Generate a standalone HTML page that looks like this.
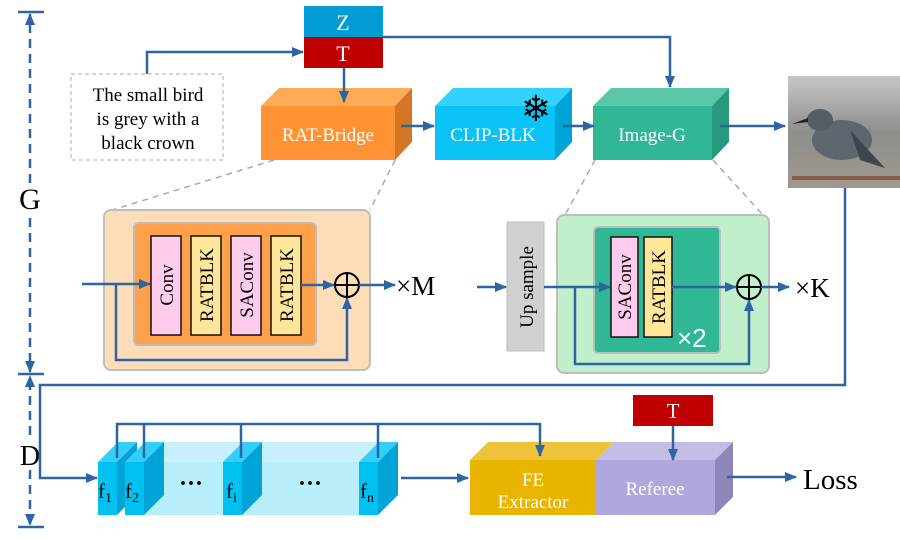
<!DOCTYPE html>
<html><head><meta charset="utf-8"><style>
html,body{margin:0;padding:0;background:#fff;}
svg{display:block;font-family:"Liberation Serif",serif;}
</style></head><body>
<svg width="900" height="539" viewBox="0 0 900 539" xmlns="http://www.w3.org/2000/svg">
<defs>
<marker id="a" markerWidth="12" markerHeight="10" refX="11" refY="5" orient="auto" markerUnits="userSpaceOnUse"><path d="M0,0 L12,5 L0,10 z" fill="#2E64A0"/></marker>
<linearGradient id="bg" x1="0" y1="0" x2="0" y2="1"><stop offset="0" stop-color="#c9c6c8"/><stop offset="0.5" stop-color="#8d8f8a"/><stop offset="1" stop-color="#a09890"/></linearGradient>
</defs>
<g stroke="#2E64A0" stroke-width="2.5" fill="none">
<line x1="18" y1="12" x2="44" y2="12"/><line x1="18" y1="374" x2="44" y2="374"/><line x1="18" y1="527" x2="44" y2="527"/>
<line x1="30" y1="183" x2="30" y2="14" stroke-dasharray="9,6" marker-end="url(#a)"/>
<line x1="30" y1="218" x2="30" y2="372" stroke-dasharray="9,6" marker-end="url(#a)"/>
<line x1="30" y1="435" x2="30" y2="376" stroke-dasharray="9,6" marker-end="url(#a)"/>
<line x1="30" y1="470" x2="30" y2="525" stroke-dasharray="9,6" marker-end="url(#a)"/>
</g>
<text x="30" y="209" font-size="30" text-anchor="middle">G</text>
<text x="30" y="465" font-size="28" text-anchor="middle">D</text>

<rect x="304" y="6" width="79" height="31" fill="#039BD5"/>
<rect x="304" y="37" width="79" height="31" fill="#C00000"/>
<text x="343" y="30" font-size="22" fill="#fff" text-anchor="middle">Z</text>
<text x="343" y="61" font-size="22" fill="#fff" text-anchor="middle">T</text>
<rect x="71" y="74" width="152" height="86" fill="none" stroke="#c8c8c8" stroke-width="1.5" stroke-dasharray="4,3"/>
<text font-size="19" text-anchor="middle"><tspan x="148" y="101">The small bird</tspan><tspan x="148" y="125">is grey with a</tspan><tspan x="148" y="149">black crown</tspan></text>

<polygon points="261,106 279,88 412,88 395,106" fill="#FFAA55"/>
<polygon points="395,106 412,88 412,142 395,160" fill="#D47626"/>
<rect x="261" y="106" width="134" height="54" fill="#FF9233"/>
<text x="328" y="141" font-size="19" fill="#fff" text-anchor="middle">RAT-Bridge</text>
<polygon points="435,106 453,88 572,88 555,106" fill="#33D1FF"/>
<polygon points="555,106 572,88 572,142 555,160" fill="#00A3D6"/>
<rect x="435" y="106" width="120" height="54" fill="#0AC2F5"/>
<text x="493" y="141" font-size="19" fill="#fff" text-anchor="middle">CLIP-BLK</text>
<text x="536" y="121" font-size="36" fill="#000" text-anchor="middle" font-family="DejaVu Sans">❄</text>
<polygon points="593,106 611,88 729,88 712,106" fill="#5BC6A8"/>
<polygon points="712,106 729,88 729,142 712,160" fill="#279A7D"/>
<rect x="593" y="106" width="119" height="54" fill="#30B795"/>
<text x="652" y="141" font-size="19" fill="#fff" text-anchor="middle">Image-G</text>
<rect x="788" y="76" width="112" height="112" fill="url(#bg)"/>
<ellipse cx="842" cy="140" rx="30" ry="20" fill="#5f6670"/>
<ellipse cx="820" cy="120" rx="13" ry="11" fill="#555c66"/>
<polygon points="808,118 792,124 808,122" fill="#222"/>
<polygon points="850,130 885,168 860,160" fill="#3f4650"/>
<rect x="792" y="176" width="108" height="4" fill="#8a5c45"/>

<g stroke="#aaa" stroke-width="1.5" stroke-dasharray="6,5">
<line x1="274" y1="160" x2="112" y2="210"/><line x1="395" y1="160" x2="370" y2="210"/>
<line x1="595" y1="160" x2="565" y2="215"/><line x1="713" y1="160" x2="763" y2="215"/>
</g>
<rect x="104" y="210" width="266" height="160" rx="7" fill="#FDDCB8" stroke="#bdbdbd" stroke-width="2"/>
<rect x="134" y="223" width="182" height="122" rx="5" fill="#FFA04A" stroke="#bdbdbd" stroke-width="2"/>
<g stroke="#111" stroke-width="1.5">
<rect x="151" y="236" width="30" height="99" fill="#FFCCEE"/>
<rect x="191" y="236" width="30" height="99" fill="#FFE699"/>
<rect x="231" y="236" width="30" height="99" fill="#FFCCEE"/>
<rect x="271" y="236" width="30" height="99" fill="#FFE699"/>
</g>
<g font-size="19" text-anchor="middle">
<text transform="translate(173,285) rotate(-90)">Conv</text>
<text transform="translate(213,285) rotate(-90)">RATBLK</text>
<text transform="translate(253,285) rotate(-90)">SAConv</text>
<text transform="translate(293,285) rotate(-90)">RATBLK</text>
</g>
<circle cx="347" cy="285" r="12" fill="none" stroke="#000" stroke-width="2"/>
<line x1="335" y1="285" x2="359" y2="285" stroke="#000" stroke-width="2"/><line x1="347" y1="273" x2="347" y2="297" stroke="#000" stroke-width="2"/>
<text x="396" y="295" font-size="27">×M</text>

<rect x="507" y="222" width="37" height="129" fill="#D0D0D0" stroke="#bbb"/>
<text transform="translate(533,287) rotate(-90)" font-size="19" text-anchor="middle">Up sample</text>
<rect x="557" y="215" width="212" height="158" rx="7" fill="#C0EFCB" stroke="#bdbdbd" stroke-width="2"/>
<rect x="594" y="227" width="126" height="126" rx="4" fill="#30B795" stroke="#bdbdbd" stroke-width="2"/>
<g stroke="#111" stroke-width="1.5">
<rect x="611" y="237" width="27" height="100" fill="#FFCCEE"/>
<rect x="644" y="237" width="28" height="100" fill="#FFE699"/>
</g>
<text transform="translate(631,287) rotate(-90)" font-size="19" text-anchor="middle">SAConv</text>
<text transform="translate(665,287) rotate(-90)" font-size="19" text-anchor="middle">RATBLK</text>
<text x="677" y="347" font-size="26" fill="#fff" font-family="Liberation Sans,sans-serif">×2</text>
<circle cx="749" cy="287" r="12" fill="none" stroke="#000" stroke-width="2"/>
<line x1="737" y1="287" x2="761" y2="287" stroke="#000" stroke-width="2"/><line x1="749" y1="275" x2="749" y2="299" stroke="#000" stroke-width="2"/>
<text x="795" y="297" font-size="27">×K</text>

<polygon points="144,462 164,442 398,442 378,462" fill="#C6F0FB"/>
<rect x="144" y="462" width="234" height="53" fill="#B8EDFA"/>
<g>
<polygon points="98,462 118,442 137,442 117,462" fill="#33CFFA"/><polygon points="117,462 137,442 137,495 117,515" fill="#00A3D6"/><rect x="98" y="462" width="19" height="53" fill="#00C0F0"/>
<polygon points="125,462 145,442 164,442 144,462" fill="#33CFFA"/><polygon points="144,462 164,442 164,495 144,515" fill="#00A3D6"/><rect x="125" y="462" width="19" height="53" fill="#00C0F0"/>
<polygon points="223,462 243,442 262,442 242,462" fill="#33CFFA"/><polygon points="242,462 262,442 262,495 242,515" fill="#00A3D6"/><rect x="223" y="462" width="19" height="53" fill="#00C0F0"/>
<polygon points="359,462 379,442 398,442 378,462" fill="#33CFFA"/><polygon points="378,462 398,442 398,495 378,515" fill="#00A3D6"/><rect x="359" y="462" width="19" height="53" fill="#00C0F0"/>
</g>
<g font-size="21"><text x="98" y="498">f<tspan font-size="14" dy="4">1</tspan></text><text x="125" y="498">f<tspan font-size="14" dy="4">2</tspan></text><text x="226" y="498">f<tspan font-size="14" dy="4">i</tspan></text><text x="360" y="498">f<tspan font-size="14" dy="4">n</tspan></text></g>
<text x="191" y="491" font-size="24" font-weight="bold" text-anchor="middle">···</text>
<text x="310" y="491" font-size="24" font-weight="bold" text-anchor="middle">···</text>

<polygon points="470,460 488,442 614,442 596,460" fill="#EDC33A"/>
<polygon points="596,460 614,442 733,442 715,460" fill="#C3BCE4"/>
<polygon points="715,460 733,442 733,497 715,515" fill="#8E86B8"/>
<rect x="470" y="460" width="126" height="55" fill="#E9B400"/>
<rect x="596" y="460" width="119" height="55" fill="#B0A8DC"/>
<text font-size="19" fill="#fff" text-anchor="middle"><tspan x="533" y="486">FE</tspan><tspan x="533" y="508">Extractor</tspan></text>
<text x="655" y="495" font-size="19" fill="#fff" text-anchor="middle">Referee</text>
<rect x="633" y="395" width="80" height="31" fill="#C00000"/>
<text x="673" y="418" font-size="21" fill="#fff" text-anchor="middle">T</text>
<text x="803" y="489" font-size="29">Loss</text>

<g stroke="#2E64A0" stroke-width="2.5" fill="none">
<polyline points="147,74 147,52 303,52" marker-end="url(#a)"/>
<line x1="344" y1="68" x2="344" y2="102" marker-end="url(#a)"/>
<polyline points="383,37 670,37 670,87" marker-end="url(#a)"/>
<line x1="401" y1="126" x2="434" y2="126" marker-end="url(#a)"/>
<line x1="563" y1="126" x2="594" y2="126" marker-end="url(#a)"/>
<line x1="720" y1="126" x2="785" y2="126" marker-end="url(#a)"/>
<line x1="82" y1="284" x2="150" y2="284" marker-end="url(#a)"/>
<polyline points="116,284 116,360 347,360 347,298" marker-end="url(#a)"/>
<line x1="301" y1="285" x2="334" y2="285" marker-end="url(#a)"/>
<line x1="359" y1="285" x2="395" y2="285" marker-end="url(#a)"/>
<line x1="477" y1="287" x2="506" y2="287" marker-end="url(#a)"/>
<line x1="544" y1="287" x2="610" y2="287" marker-end="url(#a)"/>
<polyline points="575,287 575,364 749,364 749,300" marker-end="url(#a)"/>
<line x1="672" y1="287" x2="736" y2="287" marker-end="url(#a)"/>
<line x1="761" y1="287" x2="789" y2="287" marker-end="url(#a)"/>
<polyline points="845,188 845,385 40,385 40,478 97,478" marker-end="url(#a)"/>
<polyline points="117,458 117,424 540,424 540,456" marker-end="url(#a)"/>
<line x1="144" y1="424" x2="144" y2="458"/><line x1="241" y1="424" x2="241" y2="458"/><line x1="378" y1="424" x2="378" y2="458"/>
<line x1="401" y1="478" x2="468" y2="478" marker-end="url(#a)"/>
<line x1="673" y1="426" x2="673" y2="460" marker-end="url(#a)"/>
<line x1="727" y1="477" x2="796" y2="477" marker-end="url(#a)"/>
</g>
</svg>
</body></html>
